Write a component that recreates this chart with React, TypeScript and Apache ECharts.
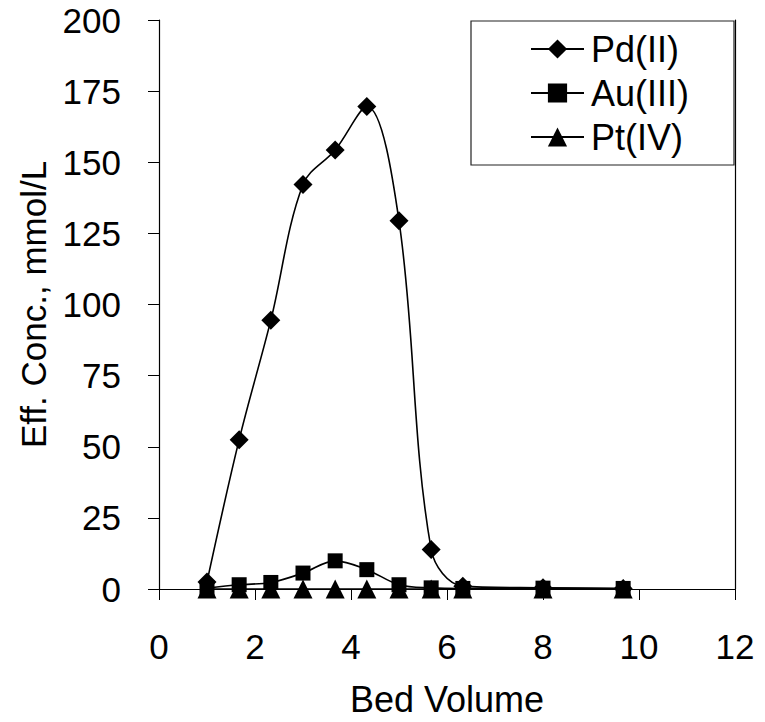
import React, { useEffect, useRef } from "react";
import * as echarts from "echarts";

const bedVolume = [1, 1.67, 2.33, 3, 3.67, 4.33, 5, 5.67, 6.33, 8, 9.67];
const pdValues = [2.5, 52.5, 94.5, 142.2, 154.3, 169.6, 129.4, 13.9, 1.0, 0.4, 0.2];
const auValues = [0.3, 1.5, 2.3, 5.6, 9.9, 6.8, 1.5, 0.4, 0.2, 0.3, 0.2];
const ptValues = [0, 0, 0, 0, 0, 0, 0, 0, 0, 0, 0];
const seriesNames = ["Pd(II)", "Au(III)", "Pt(IV)"];

const FONT = "'Liberation Sans', Arial, sans-serif";

const pairs = (ys: number[]) => bedVolume.map((x, i) => [x, ys[i]]);

export default function App() {
  const ref = useRef<HTMLDivElement>(null);

  useEffect(() => {
    document.body.style.margin = "0";
    if (!ref.current) return;
    const chart = echarts.init(ref.current, null, { renderer: "svg" });
    const lineStyle = { color: "#000", width: 1.6 };
    const itemStyle = { color: "#000" };
    chart.setOption({
      animation: false,
      backgroundColor: "#fff",
      grid: { left: 159, right: 30, top: 20, bottom: 130 },
      xAxis: {
        type: "value",
        min: 0,
        max: 12,
        interval: 2,
        name: "Bed Volume",
        nameLocation: "middle",
        nameGap: 92,
        nameTextStyle: { fontFamily: FONT, fontSize: 36, color: "#000" },
        axisLine: { onZero: true, lineStyle: { color: "#000", width: 1.2 } },
        axisTick: { show: true, inside: false, length: 11, lineStyle: { color: "#000" } },
        axisLabel: { fontFamily: FONT, fontSize: 35, color: "#000", margin: 40 },
        splitLine: { show: false },
      },
      yAxis: [
        {
          type: "value",
          min: 0,
          max: 200,
          interval: 25,
          name: "Eff. Conc., mmol/L",
          nameLocation: "middle",
          nameGap: 108,
          nameTextStyle: { fontFamily: FONT, fontSize: 35, color: "#000" },
          axisLine: { show: true, lineStyle: { color: "#000", width: 1.2 } },
          axisTick: { show: true, inside: false, length: 11, lineStyle: { color: "#000" } },
          axisLabel: { fontFamily: FONT, fontSize: 35, color: "#000", margin: 38 },
          splitLine: { show: false },
        },
        {
          type: "value",
          min: 0,
          max: 200,
          position: "right",
          axisLine: { show: true, lineStyle: { color: "#000", width: 1.2 } },
          axisTick: { show: false },
          axisLabel: { show: false },
          splitLine: { show: false },
        },
      ],
      legend: {
        orient: "vertical",
        left: 525,
        top: 25,
        itemWidth: 53,
        itemHeight: 24,
        itemGap: 6,
        textStyle: {
          fontFamily: FONT,
          fontSize: 36,
          color: "#000",
          lineHeight: 38,
          padding: [0, 0, 0, 2],
        },
        data: seriesNames,
        z: 20,
      },
      graphic: [
        {
          type: "rect",
          shape: { x: 471, y: 21, width: 263, height: 144 },
          style: { fill: "#fff", stroke: "#222", lineWidth: 1.2 },
          z: 5,
        },
      ],
      series: [
        {
          name: seriesNames[0],
          type: "line",
          data: pairs(pdValues),
          smooth: 0.35,
          symbol: "diamond",
          symbolSize: 19,
          lineStyle,
          itemStyle,
          z: 2,
        },
        {
          name: seriesNames[1],
          type: "line",
          data: pairs(auValues),
          smooth: 0.35,
          symbol: "rect",
          symbolSize: 15,
          lineStyle,
          itemStyle,
          z: 3,
        },
        {
          name: seriesNames[2],
          type: "line",
          data: pairs(ptValues),
          smooth: 0.35,
          symbol: "triangle",
          symbolSize: 19,
          lineStyle,
          itemStyle,
          z: 4,
        },
      ],
    });
    return () => chart.dispose();
  }, []);

  return <div ref={ref} style={{ width: 765, height: 722 }} />;
}
